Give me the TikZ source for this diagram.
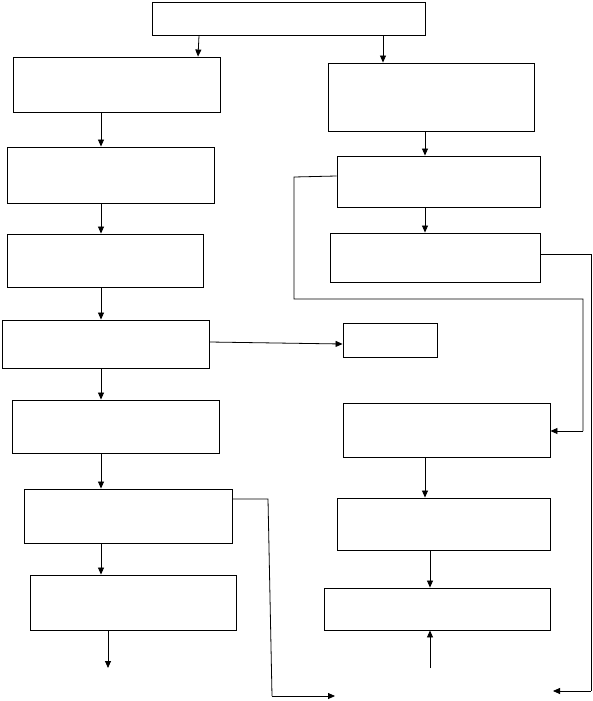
\documentclass[tikz,border=0pt]{standalone}
\usetikzlibrary{arrows.meta}
\begin{document}
\begin{tikzpicture}[x=1pt,y=-1pt,
  box/.style={draw,line width=0.9pt,inner sep=0pt,rectangle},
  arr/.style={line width=0.8pt,-{Triangle[length=7pt,width=6pt]}},
  ln/.style={line width=0.8pt}]
\useasboundingbox (0,0) rectangle (592,701);
\fill[white] (0,0) rectangle (592,701);
\node[box,minimum width=273pt,minimum height=33pt] (top) at (288.5,18.5) {};
\node[box,minimum width=207pt,minimum height=55pt] (l1) at (116.5,84.5) {};
\node[box,minimum width=206pt,minimum height=68pt] (r1) at (431,97) {};
\node[box,minimum width=207pt,minimum height=56pt] (l2) at (110.5,175) {};
\node[box,minimum width=203pt,minimum height=51pt] (r2) at (438.5,181.5) {};
\node[box,minimum width=196pt,minimum height=53pt] (l3) at (105,260.5) {};
\node[box,minimum width=210pt,minimum height=49pt] (r3) at (435,257.5) {};
\node[box,minimum width=207pt,minimum height=48pt] (l4) at (105.5,344) {};
\node[box,minimum width=94pt,minimum height=34pt] (r4) at (390,340) {};
\node[box,minimum width=207pt,minimum height=53pt] (l5) at (115.5,426.5) {};
\node[box,minimum width=207pt,minimum height=54pt] (r5) at (446.5,430) {};
\node[box,minimum width=208pt,minimum height=54pt] (l6) at (128,516) {};
\node[box,minimum width=213pt,minimum height=52pt] (r6) at (443.5,524) {};
\node[box,minimum width=206pt,minimum height=55pt] (l7) at (133,602.5) {};
\node[box,minimum width=226pt,minimum height=42pt] (r7) at (437,609) {};
\coordinate (e1) at (108,668);
\coordinate (s1) at (430,668);
\coordinate (e2) at (335,696);
\coordinate (e3) at (553,691);
% top arrows
\draw[arr] (199,0 |- top.south) -- (198,0 |- l1.north);
\draw[arr] (383,0 |- top.south) -- (383,0 |- r1.north);
% left column
\draw[arr] (101,0 |- l1.south) -- (101,0 |- l2.north);
\draw[arr] (101,0 |- l2.south) -- (101,0 |- l3.north);
\draw[arr] (101,0 |- l3.south) -- (101,0 |- l4.north);
\draw[arr] (101,0 |- l4.south) -- (101,0 |- l5.north);
\draw[arr] (101,0 |- l5.south) -- (101,0 |- l6.north);
\draw[arr] (101,0 |- l6.south) -- (101,0 |- l7.north);
\draw[arr] (108,0 |- l7.south) -- (e1);
% right column
\draw[arr] (425,0 |- r1.south) -- (425,0 |- r2.north);
\draw[arr] (425,0 |- r2.south) -- (425,0 |- r3.north);
\draw[arr] (425,0 |- r5.south) -- (425,0 |- r6.north);
\draw[arr] (430,0 |- r6.south) -- (430,0 |- r7.north);
\draw[arr] (s1) -- (430,0 |- r7.south);
% L4 to R4
\draw[arr] (l4.east |- 0,342) -- (r4.west |- 0,344);
% loop from R2 to R5
\draw[ln] (r2.west |- 0,176) -- (294,177) -- (294,299) -- (583,299) -- (583,431);
\draw[arr] (583,431) -- (r5.east |- 0,431);
% loop from R3
\draw[ln] (r3.east |- 0,254) -- (591,254) -- (591,691);
\draw[arr] (591,691) -- (e3);
% loop from L6
\draw[ln] (l6.east |- 0,499) -- (268,499) -- (272,696);
\draw[arr] (272,696) -- (e2);
\end{tikzpicture}
\end{document}
